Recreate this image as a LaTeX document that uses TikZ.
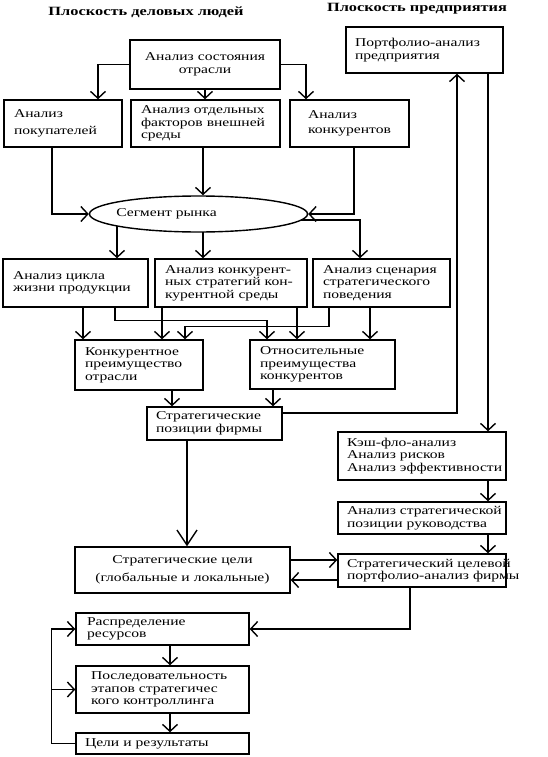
\documentclass[tikz,border=0pt]{standalone}
\usepackage{fontspec}
\setmainfont{Liberation Serif}[FakeStretch=1.3]
\usetikzlibrary{arrows.meta,shapes.geometric,backgrounds}
\newcommand\ml[1]{\mbox{#1}}
\begin{document}
\begin{tikzpicture}[x=1pt,y=-1pt,
 every node/.style={font=\fontsize{12}{12.5}\selectfont},
 box/.style={draw,line width=1.4pt,inner xsep=10pt,inner ysep=0pt,align=left},
 arr/.style={line width=1.4pt,-{Straight Barb[length=7pt,width=15pt]}},
 bigarr/.style={line width=1.4pt,-{Straight Barb[length=15pt,width=20pt]}},
 ttl/.style={font=\fontsize{12.6}{13}\selectfont\bfseries}]
\useasboundingbox (0,0) rectangle (547,757);
% titles
\node[ttl] (t1) at (146,12) {Плоскость деловых людей};
\node[ttl] (t2) at (417,9) {Плоскость предприятия};
% boxes
\node[box,align=center,text width=130pt,minimum height=49pt] (A) at (205,64.5) {\ml{Анализ состояния}\\\ml{отрасли}};
\node[box,text width=98pt,minimum height=47pt] (B) at (63,123.5) {\ml{Анализ}\\[5pt]\ml{покупателей}};
\node[box,text width=129pt,minimum height=47pt] (C) at (205.5,123.5) {\ml{Анализ отдельных}\\\ml{факторов внешней}\\\ml{среды}};
\node[box,inner xsep=18pt,text width=83pt,minimum height=47pt] (D) at (349.5,123.5) {\ml{Анализ}\\[3pt]\ml{конкурентов}};
\node[box,inner xsep=9pt,text width=139pt,minimum height=46pt] (E) at (424.5,50) {\ml{Портфолио-анализ}\\\ml{предприятия}};
\node[ellipse,draw,fill=white,line width=1.4pt,inner sep=0pt,minimum width=218pt,minimum height=36pt] (S) at (198.5,214) {\makebox[0pt][c]{Сегмент рынка\hspace{64pt}}};
\node[box,text width=125pt,minimum height=48pt] (F) at (75.5,283) {\ml{Анализ цикла}\\\ml{жизни продукции}};
\node[box,text width=132pt,minimum height=48pt] (G) at (231,283) {\ml{Анализ конкурент-}\\\ml{ных стратегий кон-}\\\ml{курентной среды}};
\node[box,text width=117pt,minimum height=48pt] (H) at (381.5,283) {\ml{Анализ сценария}\\\ml{стратегического}\\\ml{поведения}};
\node[box,text width=108pt,minimum height=50pt] (I) at (139,365) {\ml{Конкурентное}\\\ml{преимущество}\\\ml{отрасли}};
\node[box,text width=125pt,minimum height=49pt] (J) at (322.5,364.5) {\ml{Относительные}\\\ml{преимущества}\\\ml{конкурентов}};
\node[box,inner xsep=9pt,text width=117pt,minimum height=33pt] (K) at (214.5,423.5) {\ml{Стратегические}\\\ml{позиции фирмы}};
\node[box,inner xsep=9pt,text width=150pt,minimum height=48pt] (L) at (422,456) {\ml{Кэш-фло-анализ}\\\ml{Анализ рисков}\\\ml{Анализ эффективности}};
\node[box,inner xsep=9pt,text width=150pt,minimum height=32pt] (M) at (422,518) {\ml{Анализ стратегической}\\\ml{позиции руководства}};
\node[box,inner xsep=9pt,text width=150pt,minimum height=33pt] (N) at (422,570.5) {\ml{Стратегический целевой}\\\ml{портфолио-анализ фирмы}};
\node[box,align=center,text width=195pt,minimum height=46pt] (O) at (182.5,570) {\ml{Стратегические цели}\\[6pt]\ml{(глобальные и локальные)}};
\node[box,inner xsep=11pt,text width=151pt,minimum height=32pt] (P) at (162.5,629) {\ml{Распределение}\\\ml{ресурсов}};
\node[box,inner xsep=15pt,text width=143pt,minimum height=47pt] (Q) at (162.5,689.5) {\ml{Последовательность}\\\ml{этапов стратегичес}\\\ml{кого контроллинга}};
\node[box,inner xsep=9pt,text width=155pt,minimum height=21pt] (R) at (162.5,743.5) {\ml{Цели и результаты}};
% helper coordinates
\coordinate (b1) at ([xshift=35pt]B.north);
\coordinate (d1) at ([xshift=-43.5pt]D.north);
\coordinate (b2) at ([xshift=-11pt]B.south);
\coordinate (c1) at ([xshift=-2.5pt]C.south);
\coordinate (d2) at ([xshift=4.5pt]D.south);
\coordinate (f1) at ([xshift=41.5pt]F.north);
\coordinate (g1) at ([xshift=-28pt]G.north);
\coordinate (h1) at ([xshift=-21.5pt]H.north);
\coordinate (s1) at ([yshift=-6pt]S.center);
\coordinate (f2) at ([xshift=7.5pt]F.south);
\coordinate (f3) at ([xshift=39.5pt]F.south);
\coordinate (j1) at ([xshift=-55.5pt]J.north);
\coordinate (g2) at ([xshift=-69pt]G.south);
\coordinate (g3) at ([xshift=66pt]G.south);
\coordinate (h2) at ([xshift=-52.5pt]H.south);
\coordinate (i1) at ([xshift=46pt]I.north);
\coordinate (h3) at ([xshift=-11.5pt]H.south);
\coordinate (i2) at ([xshift=33pt]I.south);
\coordinate (j2) at ([xshift=-49.5pt]J.south);
\coordinate (k1) at ([yshift=10.5pt]K.east);
\coordinate (e1) at ([xshift=32.5pt]E.south);
\coordinate (e2) at ([xshift=63.5pt]E.south);
\coordinate (l1) at ([xshift=66pt]L.south);
\coordinate (m1) at ([xshift=66pt]M.south);
\coordinate (k2) at ([xshift=-27.5pt]K.south);
\coordinate (o1) at ([yshift=10pt]O.east);
\coordinate (n1) at ([yshift=-9.5pt]N.west);
\coordinate (n2) at ([xshift=-12pt]N.south);
\coordinate (p1) at ([xshift=7.5pt]P.south);
\coordinate (q1) at ([xshift=7.5pt]Q.south);
\coordinate (fb) at ([xshift=-24pt]R.west);
% connectors
\draw[arr] (A.west) -| (b1);
\draw[arr] (A.south) -- (A.south |- C.north);
\draw[arr] (A.east) -| (d1);
\draw[arr] (b2) |- (S.west);
\draw[arr] (c1) -- (c1 |- S.north);
\draw[arr] (d2) |- (S.east);
\begin{pgfonlayer}{background}
\draw[arr] (f1 |- S.center) -- (f1);
\draw[arr] (g1 |- S.center) -- (g1);
\draw[arr] (s1) -| (h1);
\end{pgfonlayer}
\draw[arr] (f2) -- (f2 |- I.north);
\draw[arr] (f3) -- ++(0,13) -| (j1);
\draw[arr] (g2) -- (g2 |- I.north);
\draw[arr] (g3) -- (g3 |- J.north);
\draw[arr] (h2) -- ++(0,19) -| (i1);
\draw[arr] (h3) -- (h3 |- J.north);
\draw[arr] (i2) -- (i2 |- K.north);
\draw[arr] (j2) -- (j2 |- K.north);
\draw[arr] (k1) -| (e1);
\draw[arr] (e2) -- (e2 |- L.north);
\draw[arr] (l1) -- (l1 |- M.north);
\draw[arr] (m1) -- (m1 |- N.north);
\draw[bigarr] (k2) -- (k2 |- O.north);
\draw[arr] (o1) -- (o1 -| N.west);
\draw[arr] (n1) -- (n1 -| O.east);
\draw[arr] (n2) |- (P.east);
\draw[arr] (p1) -- (p1 |- Q.north);
\draw[arr] (q1) -- (q1 |- R.north);
\draw[line width=1.4pt] (R.west) -- (fb);
\draw[arr] (fb) |- (P.west);
\draw[arr] (fb |- Q.west) -- (Q.west);
\end{tikzpicture}
\end{document}
